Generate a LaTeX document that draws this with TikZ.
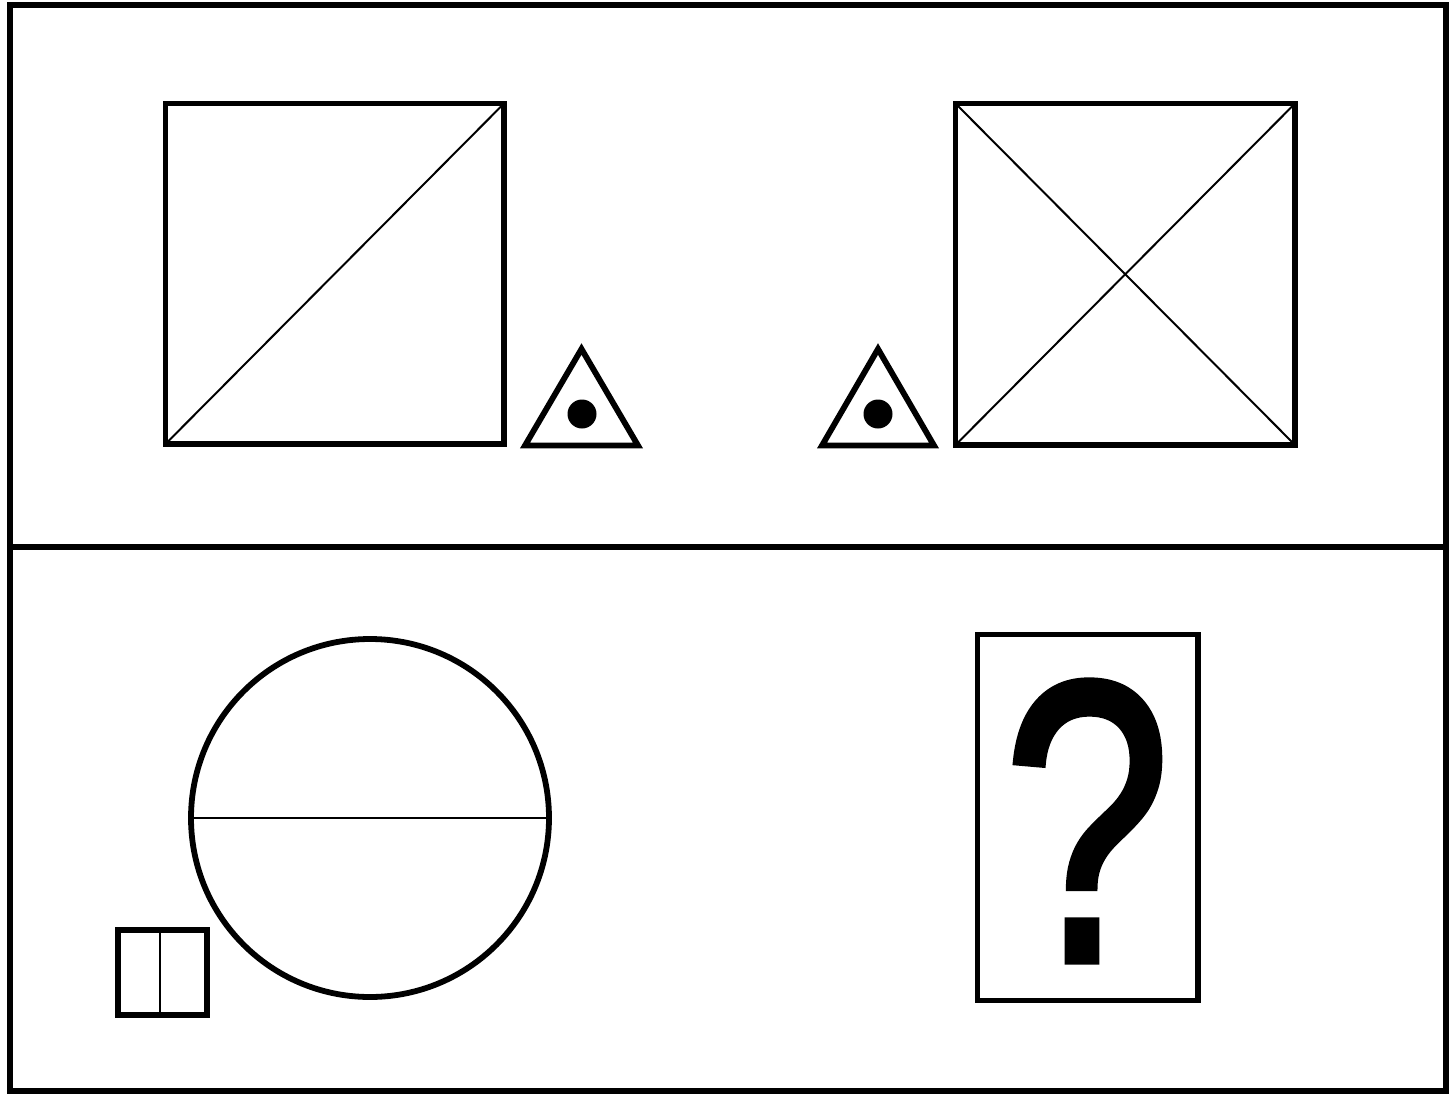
\documentclass[tikz,border=0pt]{standalone}
\usepackage{fontspec}
\newfontfamily\qfont[FakeBold=2]{Liberation Sans}
\begin{document}
\begin{tikzpicture}[x=0.5pt,y=-0.5pt,
  frame/.style={line width=3pt},
  thick shape/.style={line width=2.9pt},
  thin line/.style={line width=1pt},
  dotmark/.style={fill=black}]
\useasboundingbox (0,0) rectangle (1452,1098);
% outer frame and divider
\coordinate (fa) at (10,5);
\coordinate (fb) at (1446,1091);
\draw[frame] (fa) rectangle (fb);
\coordinate (dl) at (10,547);
\coordinate (dr) at (1446,547);
\draw[frame] (dl) -- (dr);
% square 1
\coordinate (s1a) at (165.5,103.5);
\coordinate (s1b) at (504,444);
\draw[thick shape] (s1a) rectangle (s1b);
\draw[thin line] (s1a |- s1b) -- (s1b |- s1a);
% triangle 1
\coordinate (t1l) at (525,445.5);
\coordinate (t1r) at (638,445.5);
\coordinate (t1t) at (581.5,349);
\draw[thick shape] (t1l) -- (t1r) -- (t1t) -- cycle;
\fill[dotmark] (582,414) circle (14.5);
% triangle 2
\coordinate (t2l) at (822,445.5);
\coordinate (t2r) at (934,445.5);
\coordinate (t2t) at (878,349);
\draw[thick shape] (t2l) -- (t2r) -- (t2t) -- cycle;
\fill[dotmark] (878,414) circle (14.5);
% square 2
\coordinate (s2a) at (955.5,103.5);
\coordinate (s2b) at (1295,445);
\draw[thick shape] (s2a) rectangle (s2b);
\draw[thin line] (s2a) -- (s2b);
\draw[thin line] (s2a |- s2b) -- (s2b |- s2a);
% circle
\coordinate (cc) at (370,818);
\draw[thick shape] (cc) circle (179);
\draw[thin line] ([xshift=-179*0.5pt]cc) -- ([xshift=179*0.5pt]cc);
% small rectangle
\coordinate (ra) at (118,930);
\coordinate (rb) at (207,1015);
\draw[thick shape] (ra) rectangle (rb);
\draw[thin line] (160,930) -- (160,1015);
% question box
\coordinate (qa) at (977.5,634.5);
\coordinate (qb) at (1198,1000.5);
\draw[thick shape] (qa) rectangle (qb);
\node[inner sep=0pt, xscale=0.75] (q) at (1087,821) {\qfont\fontsize{200}{200}\selectfont ?};
\end{tikzpicture}
\end{document}
